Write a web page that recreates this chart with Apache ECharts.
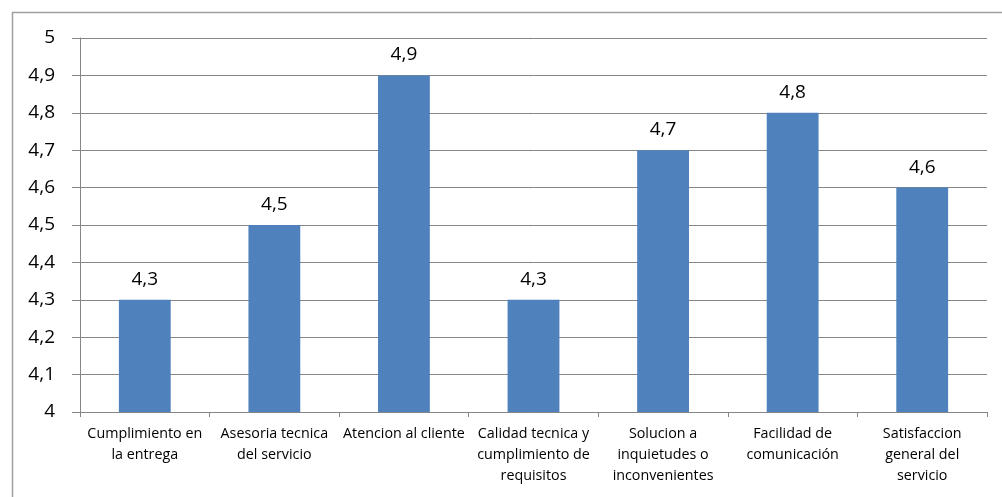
<!DOCTYPE html>
<html>
<head>
<meta charset="utf-8">
<script src="https://cdn.jsdelivr.net/npm/echarts@6/dist/echarts.min.js"></script>
<style>html,body{margin:0;padding:0;background:#fff;}#c{width:1002px;height:497px;}</style>
</head>
<body>
<div id="c"></div>
<script>
const categories = [
  "Cumplimiento en\nla entrega",
  "Asesoria tecnica\ndel servicio",
  "Atencion al cliente",
  "Calidad tecnica y\ncumplimiento de\nrequisitos",
  "Solucion a\ninquietudes o\ninconvenientes",
  "Facilidad de\ncomunicación",
  "Satisfaccion\ngeneral del\nservicio"
];
const values = [4.3, 4.5, 4.9, 4.3, 4.7, 4.8, 4.6];
const yMin = 4, yMax = 5, yStep = 0.1;

const fmt = v => (Math.round(v * 10) / 10).toString().replace('.', ',');
const chart = echarts.init(document.getElementById('c'), null, {renderer: 'canvas'});
chart.setOption({
  animation: false,
  textStyle: {fontFamily: 'Open Sans'},
  graphic: [{
    type: 'rect', left: 10, top: 10, z: -1,
    shape: {width: 1000, height: 500},
    style: {fill: 'none', stroke: '#a0a0a0', lineWidth: 1.5}
  }],
  grid: {left: 80, top: 38, right: 15, bottom: 85},
  xAxis: {
    type: 'category', data: categories,
    axisLine: {lineStyle: {color: '#868686', width: 1}},
    axisTick: {show: true, length: 5, alignWithLabel: false, lineStyle: {color: '#868686'}},
    axisLabel: {color: '#000', fontSize: 14.3, lineHeight: 21, margin: 11, interval: 0, fontFamily: 'Open Sans'}
  },
  yAxis: {
    type: 'value', min: yMin, max: yMax, interval: yStep,
    axisLine: {show: true, lineStyle: {color: '#868686', width: 1}},
    axisTick: {show: true, length: 8, lineStyle: {color: '#868686'}},
    axisLabel: {color: '#000', fontSize: 19, margin: 25, formatter: fmt},
    splitLine: {lineStyle: {color: '#868686', width: 1}}
  },
  series: [{
    type: 'bar', data: values, barWidth: '40%',
    itemStyle: {color: '#4F81BD'},
    label: {show: true, position: 'top', distance: 11, color: '#000', fontSize: 19, formatter: p => fmt(p.value)}
  }]
});
</script>
</body>
</html>
